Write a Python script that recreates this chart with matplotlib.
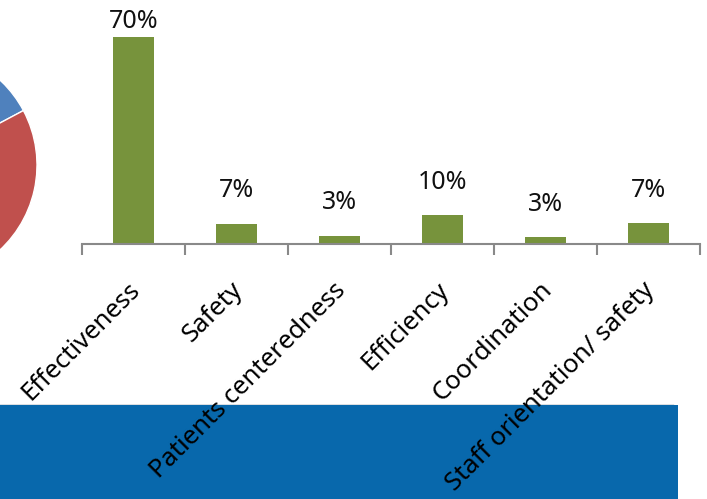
import matplotlib
matplotlib.use("Agg")
import matplotlib.pyplot as plt
from matplotlib.patches import Rectangle
from matplotlib.lines import Line2D
from matplotlib.transforms import ScaledTranslation
import numpy as np

plt.rcParams['font.family'] = ['Noto Sans', 'DejaVu Sans']

# bar chart data
categories = ['Effectiveness', 'Safety', 'Patients centeredness',
              'Efficiency', 'Coordination', 'Staff orientation/ safety']
values = [70, 6.8, 2.8, 9.8, 2.3, 7.1]
value_labels = ['70%', '7%', '3%', '10%', '3%', '7%']

# partial pie on the left (only two slices visible)
pie_shares = [20, 45, 20, 15]
pie_colors = ['#4F81BD', '#C0504D', '#9BBB59', '#8064A2']

W, H = 707, 499
fig = plt.figure(figsize=(W / 100, H / 100), dpi=100)

# pie axes, centre off the left edge
cx, cy, r = -79, 165, 116
pax = fig.add_axes([(cx - r) / W, (H - cy - r) / H, 2 * r / W, 2 * r / H])
pax.pie(pie_shares, colors=pie_colors, startangle=100, counterclock=False,
        wedgeprops=dict(edgecolor='white', linewidth=1))
pax.set_xlim(-1, 1)
pax.set_ylim(-1, 1)
pax.set_aspect('equal')
pax.axis('off')

# bar axes
left, right, top, base = 82, 700, 10, 244
ax = fig.add_axes([left / W, (H - base) / H, (right - left) / W, (base - top) / H])
ymax = 70 * (base - top) / (base - 37)
x = np.arange(len(categories))
ax.bar(x, values, width=0.4, color='#77933C', zorder=2)
ax.set_xlim(-0.5, len(categories) - 0.5)
ax.set_ylim(0, ymax)

px = ymax / (base - top)
for xi, v, lab in zip(x, values, value_labels):
    ax.text(xi, min(v + 33 * px, (base - 21) * px), lab, ha='center', va='center',
            fontsize=18, color='#111111', clip_on=False)

for s in ['top', 'right', 'left']:
    ax.spines[s].set_visible(False)
ax.spines['bottom'].set_color('#898989')
ax.spines['bottom'].set_linewidth(1.5)
ax.set_yticks([])
ax.set_xticks(x)
ax.set_xticklabels(categories, rotation=45, ha='right', va='top',
                   rotation_mode='anchor', fontsize=18.5)
ax.tick_params(axis='x', which='major', length=0, pad=14)
shift = ScaledTranslation(-6 / 100, -14 / 100, fig.dpi_scale_trans)
for lab in ax.get_xticklabels():
    lab.set_transform(lab.get_transform() + shift)
ax.set_xticks(np.arange(-0.5, len(categories)), minor=True)
ax.tick_params(axis='x', which='minor', length=8, width=1.5, color='#898989')

# blue band at the bottom
fig.patches.append(Rectangle((0, 0), 678 / W, (H - 405) / H, transform=fig.transFigure,
                             facecolor='#0868AC', edgecolor='none', zorder=-1))
fig.lines.append(Line2D([0, 673 / W], [(H - 405) / H] * 2, transform=fig.transFigure,
                        color='#4a5a66', linewidth=1, zorder=-1))

fig.savefig('out.png', dpi=100)
